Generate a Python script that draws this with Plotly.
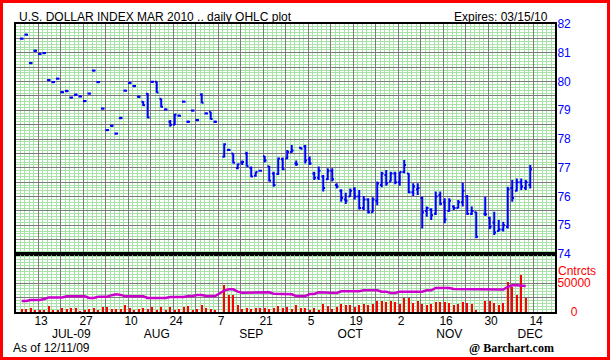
import numpy as np
import pandas as pd
import plotly.graph_objects as go

# ---------------- data ----------------
START = "2009-07-07"
END = "2009-12-11"
HOLIDAYS = ["2009-09-07", "2009-11-26"]
dates = [d.strftime("%Y-%m-%d") for d in pd.bdate_range(START, END)
         if d.strftime("%Y-%m-%d") not in HOLIDAYS]

open_ = [
    81.49, 81.63, 80.64, 81.07, 80.96, 80.99, 80.05, 79.98, 80.10, 79.63,
    79.67, 79.44, 79.54, 79.48, 79.32, 79.58, 80.38, 79.98, 79.06, 78.31,
    78.46, 78.19, 78.73, 79.68, 79.95, 79.84, 79.47, 79.30, 79.57, 79.99,
    79.99, 79.40, 79.03, 78.60, 78.50, 78.81, 79.30, 78.60, 78.99, 78.66,
    79.55, 78.89, 78.95, 78.60,
    77.38, 77.62, 77.50, 76.98, 77.18, 77.50, 77.00, 76.72, 76.90, 77.40, 77.05, 76.80, 76.78, 77.30, 77.32,
    77.55, 77.15, 77.70, 77.75, 77.30, 76.80, 76.65, 76.70, 76.60, 76.90,
    76.40, 76.20, 75.90, 76.00, 76.25, 76.00, 75.60, 75.90, 75.45, 75.85,
    76.40, 76.75, 76.52, 76.80, 76.50, 76.85, 76.80, 76.15, 76.25, 75.95,
    75.50, 75.55, 75.40, 76.05, 75.80, 75.50, 75.65, 75.60, 75.80, 76.00,
    75.40, 75.45,
    75.40, 75.25, 75.10, 74.80, 74.85, 74.95, 76.30, 76.20, 76.50, 76.30, 76.40,
]
high = [
    81.53, 81.67, 80.68, 81.11, 81.00, 81.03, 80.09, 80.02, 80.14, 79.67,
    79.71, 79.48, 79.58, 79.52, 79.36, 79.62, 80.42, 80.02, 79.10, 78.35,
    78.50, 78.23, 78.77, 79.72, 79.99, 79.88, 79.51, 79.31, 79.59, 80.03,
    79.99, 79.41, 79.07, 78.66, 78.87, 78.85, 79.34, 78.64, 79.03, 78.70,
    79.59, 78.93, 78.95, 78.64,
    77.85, 77.66, 77.50, 77.15, 77.25, 77.56, 77.04, 76.86, 76.92, 77.41, 77.06, 76.86, 77.36, 77.36, 77.62,
    77.79, 77.25, 77.73, 77.79, 77.39, 76.86, 77.04, 76.75, 76.98, 76.98,
    76.46, 76.25, 76.13, 76.28, 76.32, 76.23, 76.02, 75.94, 75.97, 76.52,
    76.86, 76.92, 76.86, 76.86, 76.86, 77.27, 76.81, 76.46, 76.46, 75.99,
    75.65, 75.59, 76.17, 76.17, 75.94, 75.94, 75.70, 75.88, 76.48, 76.05,
    75.65, 75.47,
    75.99, 75.30, 75.47, 75.18, 75.12, 76.34, 76.57, 76.63, 76.63, 76.57, 77.10,
]
low = [
    81.45, 81.59, 80.60, 81.03, 80.92, 80.95, 80.01, 79.94, 80.06, 79.59,
    79.63, 79.40, 79.50, 79.44, 79.28, 79.54, 80.34, 79.94, 79.02, 78.27,
    78.42, 78.15, 78.69, 79.64, 79.91, 79.80, 79.43, 79.15, 78.72, 79.95,
    79.61, 79.10, 78.99, 78.43, 78.49, 78.77, 79.26, 78.56, 78.95, 78.62,
    79.24, 78.85, 78.68, 78.56,
    77.36, 77.58, 77.15, 76.95, 77.10, 77.04, 76.67, 76.69, 76.88, 77.18, 76.52, 76.34, 76.75, 76.92, 77.30,
    77.52, 77.06, 77.64, 77.15, 77.10, 76.57, 76.57, 76.17, 76.57, 76.52,
    76.28, 75.82, 75.74, 75.99, 75.90, 75.55, 75.53, 75.41, 75.44, 75.70,
    76.32, 76.37, 76.52, 76.43, 76.37, 76.81, 76.11, 76.02, 76.05, 74.89,
    75.30, 75.18, 75.36, 75.70, 75.07, 75.47, 75.53, 75.59, 75.65, 75.36,
    75.36, 74.55,
    75.32, 74.86, 74.66, 74.78, 74.78, 74.89, 75.82, 76.17, 76.23, 76.23, 76.28,
]
close = [
    81.49, 81.63, 80.64, 81.07, 80.96, 80.99, 80.05, 79.98, 80.10, 79.63,
    79.67, 79.44, 79.54, 79.48, 79.32, 79.58, 80.38, 79.98, 79.06, 78.31,
    78.46, 78.19, 78.73, 79.68, 79.95, 79.84, 79.47, 79.17, 78.75, 79.99,
    79.62, 79.12, 79.03, 78.50, 78.85, 78.81, 79.30, 78.60, 78.99, 78.66,
    79.26, 78.89, 78.70, 78.60,
    77.82, 77.62, 77.17, 77.12, 77.20, 77.05, 76.70, 76.85, 76.90, 77.25, 76.55, 76.40, 77.32, 76.95, 77.55,
    77.60, 77.12, 77.66, 77.25, 77.15, 76.65, 76.90, 76.30, 76.90, 76.60,
    76.35, 75.95, 75.85, 76.20, 76.00, 75.60, 75.90, 75.45, 75.90, 76.45,
    76.80, 76.45, 76.80, 76.50, 76.85, 77.10, 76.15, 76.35, 76.30, 75.45,
    75.60, 75.35, 76.00, 75.75, 75.20, 75.85, 75.60, 75.80, 76.20, 75.40,
    75.50, 74.60,
    75.38, 74.95, 74.75, 74.85, 75.00, 76.25, 75.95, 76.50, 76.35, 76.50, 76.95,
]
volume = [
    4350, 4350, 6700, 2600, 2600, 2600, 9600, 2600, 2600, 6700,
    4350, 6700, 6700, 900, 2600, 4350, 6700, 2600, 8400, 8400,
    4350, 4350, 4350, 11300, 6700, 2600, 4350, 6700, 4350, 8400,
    2600, 8400, 2600, 8400, 2600, 4350, 8400, 9600, 2600, 4350,
    11300, 6700, 5500, 2600,
    46100, 28700, 28700, 11300, 4350, 6700, 4350, 6700, 6700, 6700, 4350, 6700, 9600, 6700, 8000,
    5500, 11300, 7250, 7250, 2600, 7250, 2600, 13000, 9600, 4350,
    8400, 13000, 11300, 11300, 8400, 11300, 13000, 11300, 13000, 18300,
    18300, 17100, 18300, 17100, 13000, 24600, 24600, 15400, 18300, 14200,
    11300, 13000, 17100, 17100, 17100, 15400, 11300, 13000, 17100, 15400,
    13000, 2600,
    18300, 18300, 15400, 11300, 15400, 51300, 43200, 28700, 63500, 24100, None,
]
open_interest = [
    18900, 18900, 20600, 20600, 20600, 22300, 25200, 25200, 25200, 25200,
    27000, 27000, 27000, 27000, 27000, 24100, 24100, 26400, 26400, 26400,
    29000, 30500, 29500, 27000, 27000, 27000, 27000, 27000, 24100, 24100,
    24100, 24100, 24100, 25800, 25800, 25800, 25800, 27500, 27500, 29300,
    29300, 27500, 27500, 27500,
    37000, 39100, 39100, 35100, 33300, 33300, 33300, 33300, 33900, 33900, 33900, 31600, 31600, 31600, 30500,
    30500, 27500, 27500, 27500, 31000, 31000, 33900, 33900, 32800, 32800,
    32800, 35700, 35700, 35700, 35700, 35700, 37400, 37400, 37400, 37400,
    35100, 35100, 32800, 32800, 35100, 35100, 35100, 35100, 35100, 35100,
    37400, 37400, 41500, 41500, 41500, 41500, 39700, 39700, 39700, 38600,
    38600, 38600,
    38600, 38600, 38600, 38600, 38600, 43200, 46000, 46000, 46000, 45000, None,
]

day_label_dates = ["2009-07-13", "2009-07-27", "2009-08-10", "2009-08-24", "2009-09-07",
                   "2009-09-21", "2009-10-05", "2009-10-19", "2009-11-02", "2009-11-16",
                   "2009-11-30", "2009-12-14"]
day_labels = ["13", "27", "10", "24", "7", "21", "5", "19", "2", "16", "30", "14"]
month_label_dates = ["2009-07-22", "2009-08-18", "2009-09-16", "2009-10-16", "2009-11-17", "2009-12-11"]
month_labels = ["JUL-09", "AUG", "SEP", "OCT", "NOV", "DEC"]
price_ticks = [74, 75, 76, 77, 78, 79, 80, 81, 82]
vol_ticks = [0, 50000]
vol_tick_labels = ["0", "50000"]


def wd(date):
    return int(np.busday_count(START, date))


x = [wd(d) for d in dates]

# ---------------- layout geometry ----------------
W, H = 610, 361
ML, MR, MT, MB = 16, 55, 24, 49
PW, PH = W - ML - MR, H - MT - MB
split = (312 - 254) / PH


def px_x(px):
    return (px - ML) / PW


def px_y(py):
    return (H - MB - py) / PH


XR = [-1.27, 118.5]
GREEN = "#a9e2a9"
GRAY = "#7a7a7a"
FONT = "Liberation Sans, Arial, sans-serif"

fig = go.Figure()
fig.add_trace(go.Ohlc(
    x=x, open=open_, high=high, low=low, close=close,
    increasing=dict(line=dict(color="#0000ff", width=2)),
    decreasing=dict(line=dict(color="#0000ff", width=2)),
    tickwidth=0.4, xaxis="x", yaxis="y", showlegend=False, hoverinfo="skip"))
fig.add_trace(go.Bar(
    x=x, y=volume, width=0.45, marker=dict(color="#ff0000", line=dict(width=0)),
    xaxis="x2", yaxis="y2", showlegend=False, hoverinfo="skip"))
fig.add_trace(go.Scatter(
    x=x, y=open_interest, mode="lines", line=dict(color="#cc00cc", width=2.5),
    xaxis="x2", yaxis="y2", showlegend=False, hoverinfo="skip"))
fig.add_trace(go.Scatter(x=[None], y=[None], xaxis="x3", yaxis="y2", showlegend=False, hoverinfo="skip"))
fig.add_trace(go.Scatter(x=[None], y=[None], xaxis="x4", yaxis="y2", showlegend=False, hoverinfo="skip"))

week_lines = [3.7 + 5 * k for k in range(-1, 24)]
common_x = dict(
    range=XR, tickmode="array", tickvals=week_lines, showticklabels=False, ticks="",
    showgrid=True, gridcolor=GRAY, gridwidth=1,
    minor=dict(dtick=1, tick0=3.7, showgrid=True, gridcolor=GREEN, gridwidth=1),
    showline=True, linecolor="black", linewidth=2, mirror=True, zeroline=False, fixedrange=True)

half_vals = [74 + 0.5 * k for k in range(17)]
half_text = [str(int(v)) if v in price_ticks else "" for v in half_vals]
vol_vals = [0, 25000, 50000, 75000, 100000]
vol_text = []
for v in vol_vals:
    if v in vol_ticks:
        lab = vol_tick_labels[vol_ticks.index(v)]
        vol_text.append(("\u00a0" * 4 + lab) if v == 0 else lab)
    else:
        vol_text.append("")

fig.update_layout(
    width=W, height=H, margin=dict(l=ML, r=MR, t=MT, b=MB),
    paper_bgcolor="white", plot_bgcolor="white", showlegend=False,
    font=dict(family=FONT, size=12, color="black"),
    xaxis=dict(**common_x, anchor="y", domain=[0, 1], rangeslider=dict(visible=False)),
    xaxis2=dict(**common_x, anchor="y2", domain=[0, 1]),
    xaxis3=dict(range=XR, overlaying="x2", anchor="y2", side="bottom", tickmode="array",
                tickvals=[wd(d) + 0.3 for d in day_label_dates], ticktext=day_labels,
                showgrid=False, showline=False, zeroline=False, ticks="",
                tickfont=dict(family=FONT, size=12, color="black")),
    xaxis4=dict(range=XR, overlaying="x2", anchor="y2", side="bottom", tickmode="array",
                tickvals=[wd(d) for d in month_label_dates], ticktext=month_labels,
                showgrid=False, showline=False, zeroline=False, ticks="outside", ticklen=11,
                tickcolor="rgba(0,0,0,0)", tickfont=dict(family=FONT, size=12, color="black")),
    yaxis=dict(domain=[split, 1], anchor="x", side="right", range=[74, 82],
               tickmode="array", tickvals=half_vals, ticktext=half_text, ticks="",
               ticklabelstandoff=-2,
               tickfont=dict(family=FONT, size=12, color="#0000ff"),
               showgrid=True, gridcolor=GRAY, gridwidth=1,
               minor=dict(dtick=0.1, tick0=74, showgrid=True, gridcolor=GREEN, gridwidth=1),
               showline=True, linecolor="black", linewidth=2, mirror=True, zeroline=False, fixedrange=True),
    yaxis2=dict(domain=[0, split], anchor="x2", side="right", range=[0, 100000],
                tickmode="array", tickvals=vol_vals, ticktext=vol_text, ticks="",
                ticklabelstandoff=-2,
                tickfont=dict(family=FONT, size=12, color="#ff0000"),
                showgrid=True, gridcolor=GRAY, gridwidth=1,
                minor=dict(dtick=5000, tick0=0, showgrid=True, gridcolor=GREEN, gridwidth=1),
                showline=True, linecolor="black", linewidth=2, mirror=True, zeroline=False, fixedrange=True),
    bargap=0,
)

ann = dict(xref="paper", yref="paper", showarrow=False, font=dict(family=FONT, size=12, color="black"))
fig.add_annotation(**ann, text="U.S. DOLLAR INDEX MAR 2010 .. daily OHLC plot",
                   x=px_x(17), y=px_y(17), xanchor="left", yanchor="middle")
fig.add_annotation(**ann, text="Expires: 03/15/10",
                   x=px_x(550), y=px_y(17), xanchor="right", yanchor="middle")
fig.add_annotation(xref="paper", yref="paper", showarrow=False,
                   font=dict(family=FONT, size=12, color="#ff0000"), text="Cntrcts",
                   x=px_x(556), y=px_y(271), xanchor="left", yanchor="middle")
fig.add_annotation(**ann, text="As of 12/11/09",
                   x=px_x(11), y=px_y(348), xanchor="left", yanchor="middle")
fig.add_annotation(xref="paper", yref="paper", showarrow=False,
                   font=dict(family="Liberation Serif, Times New Roman, serif", size=12, color="black"),
                   text="<b>@ Barchart.com</b>",
                   x=px_x(467), y=px_y(348), xanchor="left", yanchor="middle")

# solid divider between the price and volume panels
fig.add_shape(type="line", xref="paper", yref="paper", x0=0, x1=1, y0=split, y1=split,
              line=dict(color="black", width=2.5), layer="above")
# red outer frame
fig.add_shape(type="rect", xref="paper", yref="paper",
              x0=px_x(1.5), x1=px_x(608.5), y0=px_y(358.5), y1=px_y(1.5),
              line=dict(color="#ff0000", width=3), fillcolor="rgba(0,0,0,0)", layer="above")

fig.write_html("out.html", config={"displayModeBar": False},
               post_script="document.body.style.margin='0';document.body.style.overflow='hidden';")
